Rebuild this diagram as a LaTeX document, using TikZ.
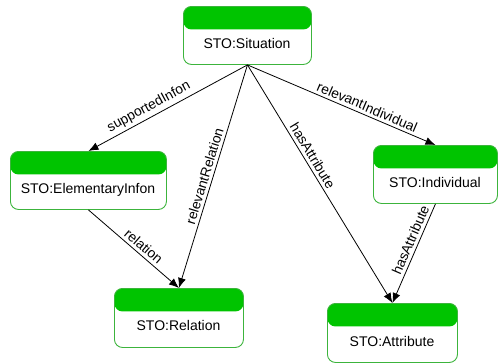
\documentclass[tikz,border=0pt]{standalone}
\usepackage{fontspec}
\setmainfont{Liberation Sans}
\usetikzlibrary{arrows.meta}
\definecolor{hdr}{RGB}{0,196,0}
\definecolor{bord}{RGB}{60,180,60}
\begin{document}
\begin{tikzpicture}[x=1pt,y=-1pt,
  umlbox/.style={draw=bord, line width=0.9pt, rounded corners=8pt, fill=white, inner sep=0pt, anchor=north west,
    path picture={\fill[hdr] (path picture bounding box.north west) rectangle ([yshift=-23pt]path picture bounding box.north east);}},
  boxtext/.style={font=\fontsize{14}{16}\selectfont, anchor=base, inner sep=0pt},
  conn/.style={draw=black, line width=0.8pt, -{Latex[length=10pt,width=8pt]}},
  elabel/.style={font=\fontsize{13.8}{15}\selectfont, sloped, above, inner sep=3pt}]
\useasboundingbox (0,0) rectangle (498,364);
% boxes
\node[umlbox, minimum width=128pt, minimum height=58pt] (sit) at (183,6) {};
\node[boxtext] (sitt) at (247,48) {STO:Situation};
\node[umlbox, minimum width=156pt, minimum height=58pt] (ei) at (10,151) {};
\node[boxtext] (eit) at (88,193) {STO:ElementaryInfon};
\node[umlbox, minimum width=129pt, minimum height=59pt] (rel) at (114,288) {};
\node[boxtext] (relt) at (178.5,330) {STO:Relation};
\node[umlbox, minimum width=130pt, minimum height=59pt] (attr) at (327,303) {};
\node[boxtext] (attrt) at (392,346) {STO:Attribute};
\node[umlbox, minimum width=124pt, minimum height=58pt] (ind) at (373,145) {};
\node[boxtext] (indt) at (435,187) {STO:Individual};
% connectors
\draw[conn] (sit.south) -- node[elabel, pos=0.59] (l1) {supportedInfon} (ei.north);
\draw[conn] (sit.south) -- node[elabel, pos=0.51] (l2) {relevantRelation} (rel.north);
\draw[conn] (sit.south) -- node[elabel, pos=0.40] (l3) {hasAttribute} (attr.north);
\draw[conn] (sit.south) -- node[elabel, pos=0.62] (l4) {relevantIndividual} (ind.north);
\draw[conn] (ind.south) -- node[elabel, pos=0.40] (l5) {hasAttribute} (attr.north);
\draw[conn] (ei.south) -- node[elabel, pos=0.55] (l6) {relation} (rel.north);
\end{tikzpicture}
\end{document}
